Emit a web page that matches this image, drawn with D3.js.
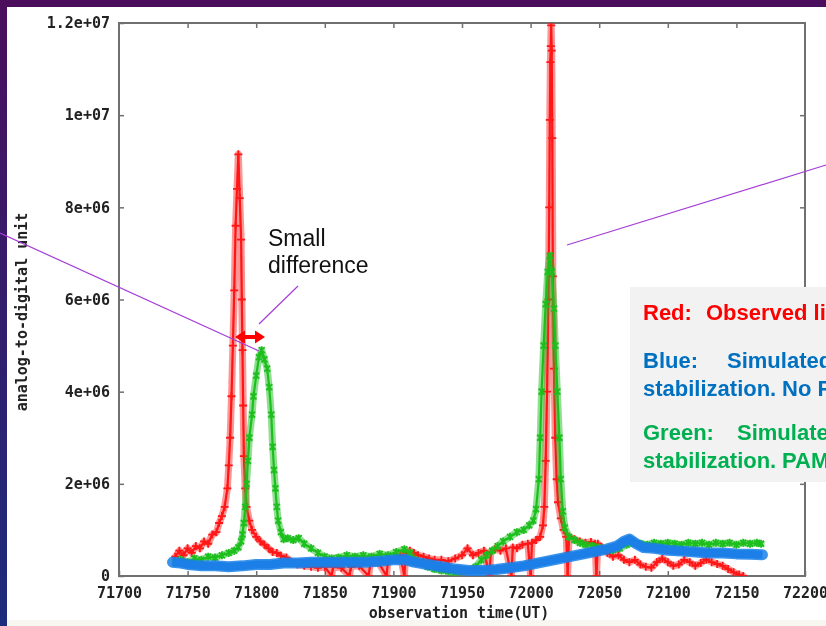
<!DOCTYPE html>
<html>
<head>
<meta charset="utf-8">
<script src="https://cdn.jsdelivr.net/npm/d3@7"></script>
<style>
body{margin:0;background:#fff;}
svg{display:block;}
</style>
</head>
<body>
<svg id="chart" width="826" height="626"></svg>
<script>
//x axis ticks (observation time)
const xTicks = [71700,71750,71800,71850,71900,71950,72000,72050,72100,72150,72200];
//y axis ticks in millions and the labels gnuplot printed
const yTicks = [0,2,4,6,8,10,12];
const yTickLabels = ["0","2e+06","4e+06","6e+06","8e+06","1e+07","1.2e+07"];

//red: observed light curve [time, value in millions]
const observedRed = [
  [71741,0.42],[71744,0.55],[71747,0.45],[71750,0.6],[71753,0.5],[71756,0.65],[71759,0.6],
  [71762,0.75],[71765,0.7],[71768,0.9],[71771,0.95],[71773,1.15],[71775,1.3],[71777,1.5],
  [71779,1.9],[71780,2.4],[71781,3.0],[71782,3.9],[71783,5.0],[71784,6.2],[71785,7.6],
  [71786,8.4],[71787,9.15],[71788,8.2],[71789,7.3],[71789.5,6.0],[71790,4.9],[71790.5,3.7],
  [71791,2.6],[71792,1.9],[71793,1.5],[71795,1.2],[71797,1.0],[71800,0.85],[71803,0.75],
  [71806,0.68],[71809,0.6],[71812,0.52],[71815,0.5],[71818,0.44],[71822,0.4],[71826,0.3],
  [71830,0.25],[71835,0.22],[71840,0.2],[71845,0.18],[71850,0.2],[71855,0],[71856,0.2],
  [71862,0.18],[71868,0],[71869,0.2],[71875,0.22],[71882,0],[71883,0.25],[71889,0.3],
  [71895,0],[71896,0.32],[71901,0.38],[71905,0.45],[71908,0],[71909,0.5],[71912,0.55],
  [71915,0.5],[71918,0.45],[71922,0.42],[71926,0.38],[71930,0.35],[71935,0.35],[71940,0.32],
  [71945,0.38],[71950,0.45],[71954,0.6],[71958,0.45],[71962,0.5],[71966,0.55],[71970,0],
  [71971,0.52],[71974,0.58],[71978,0.55],[71982,0.6],[71986,0],[71987,0.62],[71990,0.6],
  [71994,0.68],[71998,0.7],[72000,0],[72001,0.72],[72004,0.78],[72007,0.85],[72009,1.1],
  [72010,1.5],[72011,2.5],[72012,4.0],[72013,6.0],[72013.6,8.0],[72014,9.9],[72014.4,11.15],
  [72014.7,11.5],[72015,11.95],[72015.4,11.4],[72015.8,9.5],[72016.2,6.5],[72017,4.5],
  [72018,3.0],[72019,2.1],[72020,1.6],[72022,1.25],[72024,1.0],[72026,0.85],[72027,0],
  [72028,0.85],[72032,0.8],[72036,0.75],[72040,0.72],[72044,0.74],[72047,0.7],[72048,0],
  [72049,0.7],[72052,0.62],[72056,0.5],[72060,0.42],[72064,0.45],[72068,0.35],[72072,0.3],
  [72076,0.35],[72080,0.25],[72084,0.2],[72088,0.18],[72092,0.3],[72096,0.38],[72100,0.3],
  [72104,0.22],[72108,0.25],[72112,0.35],[72116,0.3],[72120,0.22],[72124,0.28],[72128,0.36],
  [72132,0.3],[72136,0.26],[72140,0.22],[72144,0.15],[72148,0.08],[72152,0.03],[72155,0]
];

//green: simulated, with stabilization
const simulatedGreen = [
  [71741,0.3],[71745,0.35],[71750,0.3],[71755,0.38],[71760,0.35],[71765,0.42],[71770,0.4],
  [71775,0.45],[71780,0.5],[71784,0.55],[71787,0.62],[71789,0.75],[71790,0.9],[71791,1.15],
  [71792,1.5],[71793,2.0],[71794,2.5],[71795,3.0],[71797,3.5],[71798,3.9],[71800,4.35],
  [71802,4.75],[71804,4.9],[71806,4.7],[71808,4.5],[71809.5,4.1],[71811,3.5],[71812,2.8],
  [71813,2.3],[71814,1.9],[71815,1.5],[71816,1.2],[71818,0.95],[71820,0.8],[71823,0.82],
  [71827,0.78],[71831,0.82],[71835,0.7],[71840,0.6],[71845,0.5],[71850,0.42],[71855,0.38],
  [71860,0.4],[71866,0.45],[71872,0.42],[71878,0.45],[71884,0.42],[71890,0.48],[71896,0.45],
  [71902,0.52],[71908,0.58],[71912,0.5],[71916,0.35],[71920,0.28],[71925,0.2],[71930,0.15],
  [71935,0.12],[71940,0.1],[71945,0.08],[71950,0.1],[71955,0.12],[71960,0.2],[71964,0.35],
  [71968,0.45],[71972,0.55],[71976,0.65],[71980,0.75],[71985,0.85],[71990,0.95],[71995,1.0],
  [71999,1.1],[72002,1.2],[72004,1.45],[72006,2.1],[72007,3.0],[72008,4.0],[72009.5,5.0],
  [72011,5.9],[72012.5,6.6],[72014,6.95],[72015.5,6.6],[72017,5.8],[72018,5.0],[72019.5,4.0],
  [72021,3.0],[72022,2.1],[72023.5,1.4],[72025,1.05],[72028,0.85],[72032,0.78],[72036,0.72],
  [72040,0.68],[72045,0.65],[72050,0.62],[72055,0.58],[72060,0.56],[72065,0.6],[72070,0.68],
  [72075,0.72],[72080,0.7],[72085,0.68],[72090,0.72],[72095,0.7],[72100,0.72],[72105,0.7],
  [72110,0.68],[72115,0.72],[72120,0.7],[72125,0.72],[72130,0.68],[72135,0.72],[72140,0.7],
  [72145,0.72],[72150,0.68],[72155,0.72],[72160,0.7],[72165,0.72],[72168,0.7]
];

//blue: simulated, no stabilization
const simulatedBlue = [
  [71739,0.3],[71745,0.28],[71750,0.25],[71760,0.22],[71770,0.22],[71780,0.2],[71790,0.22],
  [71800,0.25],[71810,0.25],[71820,0.28],[71830,0.28],[71840,0.3],[71850,0.3],[71860,0.3],
  [71870,0.3],[71880,0.3],[71890,0.32],[71900,0.35],[71908,0.36],[71915,0.3],[71925,0.25],
  [71935,0.2],[71945,0.15],[71955,0.12],[71965,0.12],[71975,0.14],[71985,0.18],[71995,0.22],
  [72005,0.28],[72015,0.34],[72025,0.4],[72035,0.46],[72045,0.52],[72055,0.58],[72063,0.65],
  [72068,0.75],[72072,0.8],[72077,0.7],[72082,0.62],[72090,0.6],[72100,0.56],[72110,0.54],
  [72120,0.52],[72130,0.5],[72140,0.5],[72150,0.48],[72160,0.47],[72169,0.46]
];

const svg = d3.select("#chart");
const defs = svg.append("defs");

//slide background strips
const grad = defs.append("linearGradient").attr("id","sideGrad")
  .attr("x1",0).attr("y1",0).attr("x2",0).attr("y2",1);
grad.append("stop").attr("offset","0%").attr("stop-color","#4a0e5c");
grad.append("stop").attr("offset","100%").attr("stop-color","#1c2c7c");

//the source picture is a blurry screenshot
defs.append("filter").attr("id","soft")
  .append("feGaussianBlur").attr("stdDeviation",0.6);
defs.append("clipPath").attr("id","plotClip")
  .append("rect").attr("x",119).attr("y",23).attr("width",686).attr("height",553);

svg.append("rect").attr("width",826).attr("height",626).attr("fill","#ffffff");
svg.append("rect").attr("x",0).attr("y",620).attr("width",826).attr("height",6).attr("fill","#f8f6f1");
svg.append("rect").attr("width",826).attr("height",7).attr("fill","#4a0e5c");
svg.append("rect").attr("width",7).attr("height",626).attr("fill","url(#sideGrad)");

const x = d3.scaleLinear().domain([71700,72200]).range([119,805]);
const y = d3.scaleLinear().domain([0,12]).range([576,23]);

const chart = svg.append("g").attr("filter","url(#soft)");

//frame
chart.append("rect")
  .attr("x",x(71700)).attr("y",y(12))
  .attr("width",x(72200)-x(71700)).attr("height",y(0)-y(12))
  .attr("fill","none").attr("stroke","#707070").attr("stroke-width",2);

const tickFont = "'DejaVu Sans Mono', monospace";

function styleAxis(g){
  g.select(".domain").remove();
  g.selectAll(".tick line").attr("stroke","#707070").attr("stroke-width",1.5);
  g.selectAll(".tick text")
    .attr("fill","#222")
    .style("font-family",tickFont)
    .style("font-size","15px")
    .style("font-weight","bold");
}

chart.append("g").attr("transform","translate(0,"+y(0)+")")
  .call(d3.axisBottom(x).tickValues(xTicks).tickSizeInner(-5).tickSizeOuter(0).tickPadding(11).tickFormat(d3.format("d")))
  .call(styleAxis);
chart.append("g").attr("transform","translate(0,"+y(12)+")")
  .call(d3.axisTop(x).tickValues(xTicks.slice(1,-1)).tickSizeInner(-5).tickSizeOuter(0).tickFormat(""))
  .call(styleAxis);
chart.append("g").attr("transform","translate("+x(71700)+",0)")
  .call(d3.axisLeft(y).tickValues(yTicks).tickSizeInner(-5).tickSizeOuter(0).tickPadding(9)
    .tickFormat((d,i)=>yTickLabels[i]))
  .call(styleAxis);
chart.append("g").attr("transform","translate("+x(72200)+",0)")
  .call(d3.axisRight(y).tickValues(yTicks.slice(1,-1)).tickSizeInner(-5).tickSizeOuter(0).tickFormat(""))
  .call(styleAxis);

//axis titles
chart.append("text")
  .attr("x",459).attr("y",618)
  .attr("text-anchor","middle")
  .attr("fill","#222")
  .style("font-family",tickFont).style("font-size","15px").style("font-weight","bold")
  .text("observation time(UT)");
chart.append("text")
  .attr("transform","translate(27,312)rotate(-90)")
  .attr("text-anchor","middle")
  .attr("fill","#222")
  .style("font-family",tickFont).style("font-size","15px").style("font-weight","bold")
  .text("analog-to-digital unit");

const line = d3.line().x(d=>x(d[0])).y(d=>y(d[1]));
const plot = chart.append("g").attr("clip-path","url(#plotClip)");

function drawSeries(data, color, wide, wideOpacity, thin, marker){
  plot.append("path").datum(data)
    .attr("d",line).attr("fill","none").attr("stroke",color)
    .attr("stroke-width",wide).attr("stroke-opacity",wideOpacity)
    .attr("stroke-linejoin","round").attr("stroke-linecap","round");
  plot.append("path").datum(data)
    .attr("d",line).attr("fill","none").attr("stroke",color)
    .attr("stroke-width",thin)
    .attr("stroke-linejoin","round");
  if(marker){
    plot.selectAll(null).data(data).enter().append("path")
      .attr("transform",d=>"translate("+x(d[0])+","+y(d[1])+")")
      .attr("d",marker)
      .attr("stroke",color).attr("stroke-width",1.8).attr("fill","none");
  }
}

drawSeries(observedRed,"#ff1414",7,0.45,2.2,"M-4,0H4M0,-4V4");
drawSeries(simulatedGreen,"#1fbf1f",7,0.5,2.2,"M-3,-3L3,3M-3,3L3,-3M0,-4V4");
drawSeries(simulatedBlue,"#1a7fe8",11,0.85,8,null);

//slide annotations (crisp, drawn on top)
const purple = "#a43ed6";
svg.append("line").attr("x1",0).attr("y1",233).attr("x2",259).attr("y2",351)
  .attr("stroke",purple).attr("stroke-width",1.2);
svg.append("line").attr("x1",567).attr("y1",245).attr("x2",826).attr("y2",165)
  .attr("stroke",purple).attr("stroke-width",1.2);
svg.append("line").attr("x1",298).attr("y1",286).attr("x2",259).attr("y2",324)
  .attr("stroke",purple).attr("stroke-width",1.2);

//double arrow for the peak shift
svg.append("path")
  .attr("d","M235,337L245,330.5V335H255V330.5L265,337L255,343.5V339H245V343.5Z")
  .attr("fill","#ff0000");

const slideFont = "'Liberation Sans', Arial, sans-serif";
svg.append("text").attr("x",268).attr("y",246)
  .style("font-family",slideFont).style("font-size","23px").attr("fill","#111")
  .text("Small");
svg.append("text").attr("x",268).attr("y",273)
  .style("font-family",slideFont).style("font-size","23px").attr("fill","#111")
  .text("difference");

//legend box on the slide
svg.append("rect").attr("x",630).attr("y",287).attr("width",200).attr("height",195)
  .attr("fill","#f2f2f2");

const legendLines = [
  {y:320, color:"#ff0000", parts:[[643,"Red:"],[706,"Observed light curve"]]},
  {y:368, color:"#0070c0", parts:[[643,"Blue:"],[727,"Simulated light curve with attitude"]]},
  {y:396, color:"#0070c0", parts:[[643,"stabilization."],[782,"No PAM"]]},
  {y:440, color:"#00b050", parts:[[643,"Green:"],[737,"Simulated light curve with attitude"]]},
  {y:468, color:"#00b050", parts:[[643,"stabilization."],[782,"PAM applied"]]}
];
legendLines.forEach(function(l){
  const t = svg.append("text").attr("y",l.y).attr("fill",l.color)
    .style("font-family",slideFont).style("font-size","22px").style("font-weight","bold");
  l.parts.forEach(function(p){
    t.append("tspan").attr("x",p[0]).text(p[1]);
  });
});
</script>
</body>
</html>
